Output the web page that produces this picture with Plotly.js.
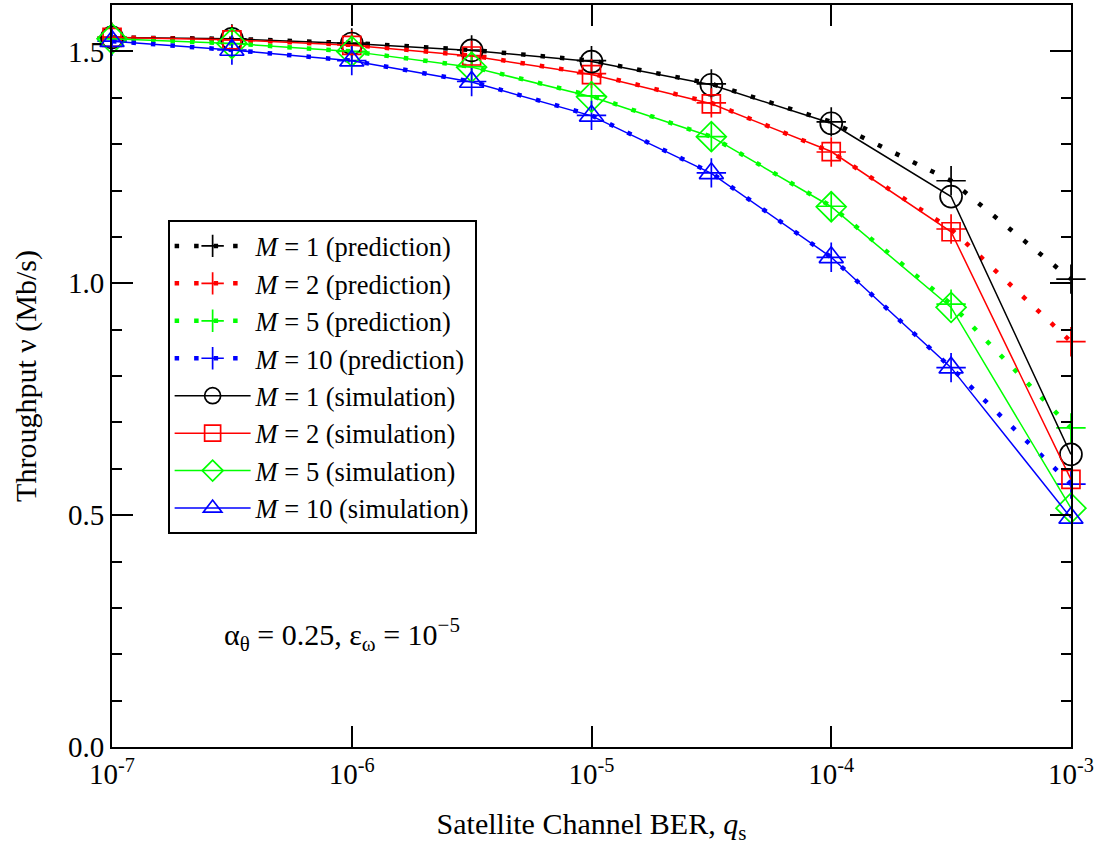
<!DOCTYPE html>
<html>
<head>
<meta charset="utf-8">
<script src="https://cdn.plot.ly/plotly-3.0.1.min.js"></script>
<style>
  html, body { margin: 0; padding: 0; background: #fff; }
  #chart { width: 1105px; height: 854px; }
</style>
</head>
<body>
<div id="chart"></div>
<script>
// Satellite channel bit error rate (half-decade steps)
const ber = [1e-7, 3.162e-7, 1e-6, 3.162e-6, 1e-5, 3.162e-5, 1e-4, 3.162e-4, 1e-3];

// Predicted throughput (Mb/s)
const predM1  = [1.530, 1.527, 1.518, 1.503, 1.480, 1.430, 1.348, 1.221, 1.009];
const predM2  = [1.530, 1.525, 1.514, 1.491, 1.452, 1.389, 1.283, 1.117, 0.874];
const predM5  = [1.527, 1.517, 1.500, 1.467, 1.404, 1.316, 1.166, 0.955, 0.688];
const predM10 = [1.522, 1.503, 1.480, 1.435, 1.362, 1.238, 1.056, 0.818, 0.567];

// Simulated throughput (Mb/s)
const simM1  = [1.530, 1.527, 1.517, 1.502, 1.478, 1.428, 1.345, 1.187, 0.631];
const simM2  = [1.530, 1.525, 1.513, 1.490, 1.450, 1.387, 1.284, 1.111, 0.577];
const simM5  = [1.527, 1.517, 1.500, 1.466, 1.402, 1.316, 1.165, 0.948, 0.515];
const simM10 = [1.522, 1.503, 1.480, 1.434, 1.361, 1.237, 1.056, 0.818, 0.494];

const xTickVals = [1e-7, 1e-6, 1e-5, 1e-4, 1e-3];
const xTickText = ['10<sup>-7</sup>', '10<sup>-6</sup>', '10<sup>-5</sup>', '10<sup>-4</sup>', '10<sup>-3</sup>'];

const FONT = 'Liberation Serif, Times New Roman, serif';

function prediction(y, color, m) {
  return {
    x: ber, y: y, type: 'scatter', mode: 'lines+markers', cliponaxis: false,
    name: '<i>M</i> = ' + m + ' (prediction)',
    line: { color: color, width: 4.5, dash: '4.5px,15px' },
    marker: { symbol: 'cross-thin-open', size: 21, line: { color: color, width: 1.7 } }
  };
}

function simulation(y, color, m, symbol, size) {
  return {
    x: ber, y: y, type: 'scatter', mode: 'lines+markers', cliponaxis: false,
    name: '<i>M</i> = ' + m + ' (simulation)',
    line: { color: color, width: 1.5 },
    marker: { symbol: symbol, size: size, color: color, line: { color: color, width: 1.7 } }
  };
}

const traces = [
  prediction(predM1, '#000000', 1),
  prediction(predM2, '#ff0000', 2),
  prediction(predM5, '#00ff00', 5),
  prediction(predM10, '#0000ff', 10),
  simulation(simM1, '#000000', 1, 'circle-open', 22),
  simulation(simM2, '#ff0000', 2, 'square-open', 18),
  simulation(simM5, '#00ff00', 5, 'diamond-open', 23),
  simulation(simM10, '#0000ff', 10, 'triangle-up-open', 21)
];

const layout = {
  width: 1105, height: 854,
  margin: { l: 112, r: 34, t: 5, b: 107 },
  paper_bgcolor: '#fff', plot_bgcolor: '#fff',
  font: { family: FONT, size: 29, color: '#000' },
  showlegend: true,
  legend: {
    x: 0.058, y: 0.71, xanchor: 'left', yanchor: 'top',
    bordercolor: '#000', borderwidth: 2, bgcolor: '#fff',
    font: { family: FONT, size: 26.5, color: '#000' },
    itemwidth: 76, tracegroupgap: 0
  },
  xaxis: {
    type: 'log', range: [-7.0002, -2.9998],
    tickmode: 'array', tickvals: xTickVals, ticktext: xTickText,
    ticks: 'inside', ticklen: 21, tickwidth: 2, tickcolor: '#000',
    showline: true, linewidth: 2, linecolor: '#000', mirror: 'allticks',
    showgrid: false, zeroline: false,
    tickfont: { family: FONT, size: 29 },
    title: { text: 'Satellite Channel BER, <i>q</i><sub>s</sub>', font: { family: FONT, size: 30 }, standoff: 24 }
  },
  yaxis: {
    range: [0, 1.6], dtick: 0.5, tick0: 0, tickformat: '.1f',
    ticks: 'inside', ticklen: 21, tickwidth: 2, tickcolor: '#000',
    minor: { dtick: 0.1, ticks: 'inside', ticklen: 10, tickwidth: 2, tickcolor: '#000', showgrid: false },
    showline: true, linewidth: 2, linecolor: '#000', mirror: 'allticks',
    showgrid: false, zeroline: false,
    tickfont: { family: FONT, size: 29 },
    title: { text: 'Throughput ν (Mb/s)', font: { family: FONT, size: 30 }, standoff: 22 }
  },
  annotations: [{
    xref: 'paper', yref: 'paper', x: 0.1147, y: 0.151,
    xanchor: 'left', yanchor: 'middle', showarrow: false,
    text: 'α<sub>θ</sub> = 0.25, ε<sub>ω</sub> = 10<sup>−5</sup>',
    font: { family: FONT, size: 30, color: '#000' }
  }]
};

Plotly.newPlot('chart', traces, layout, { displayModeBar: false, staticPlot: true });
</script>
</body>
</html>
